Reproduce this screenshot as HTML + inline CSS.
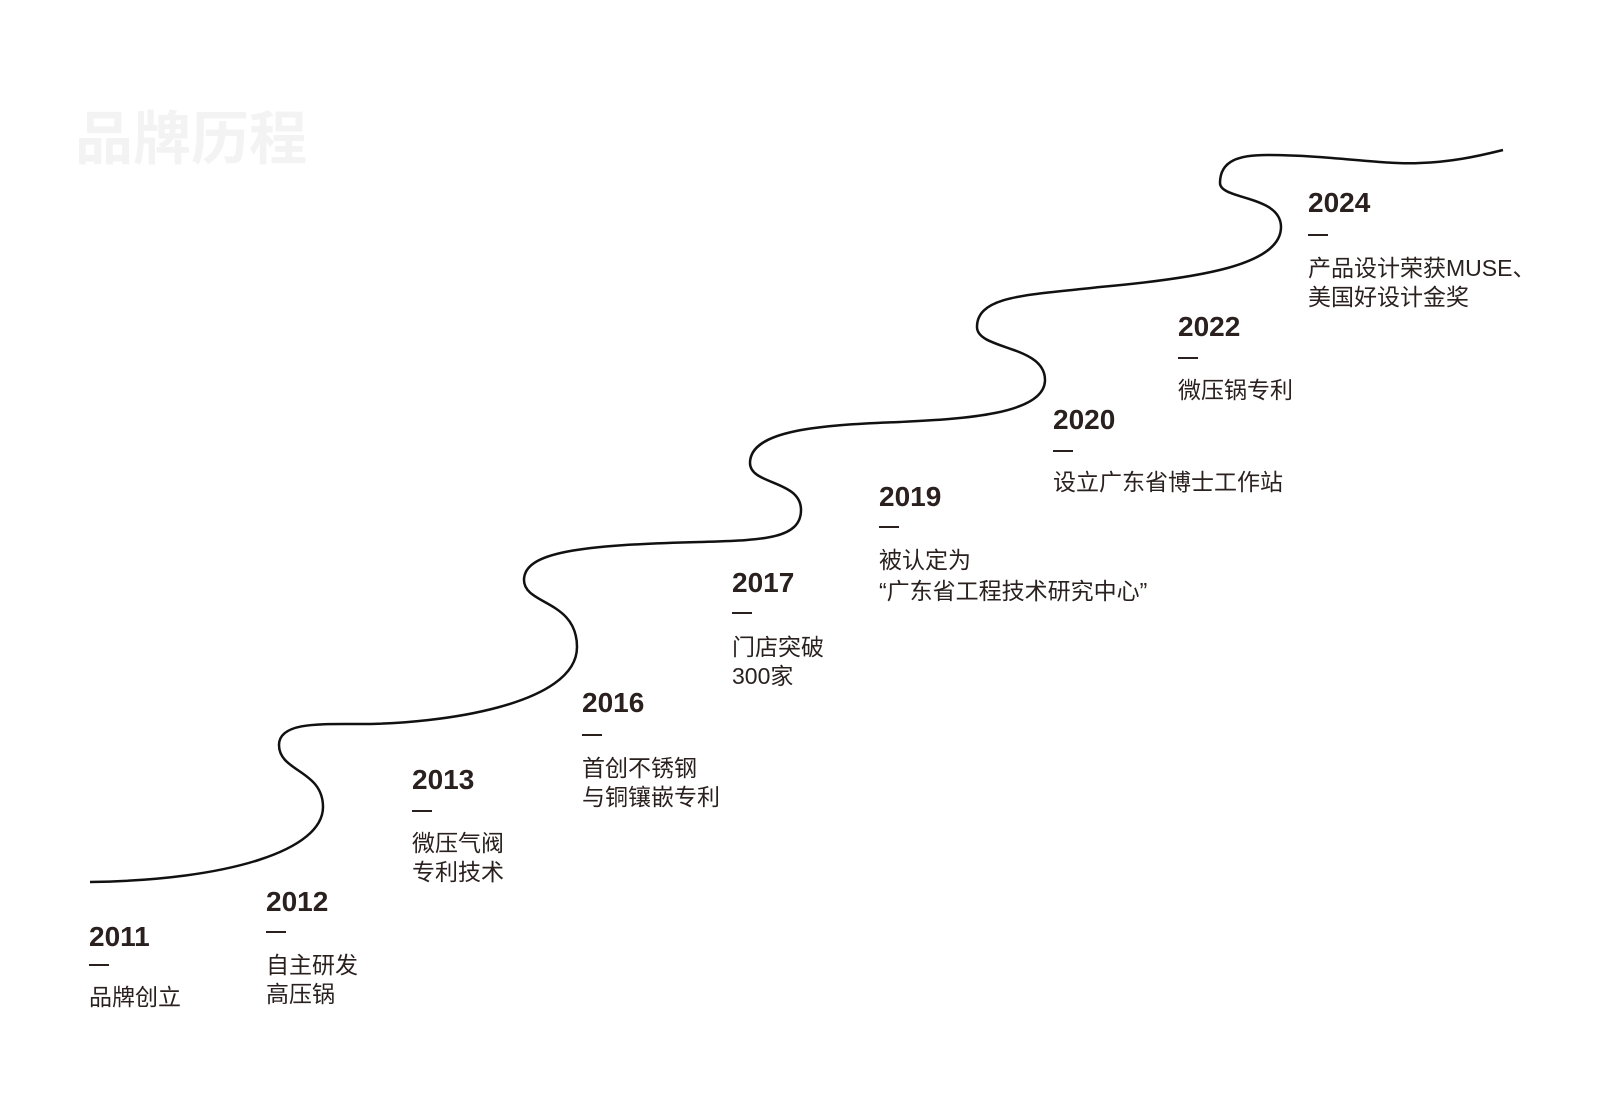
<!DOCTYPE html>
<html><head><meta charset="utf-8"><style>
body{margin:0;background:#fff;}
#c{position:relative;width:1610px;height:1110px;overflow:hidden;font-family:"Liberation Sans","Noto Sans CJK SC",sans-serif;color:#2a211f;}
.t{position:absolute;white-space:nowrap;}
.y{font-size:28px;font-weight:bold;line-height:32px;}
.d{width:20px;height:2px;background:#2a211f;}
.x{font-size:23px;line-height:29px;}
</style></head><body><div id="c">
<div class="t" style="left:75px;top:98px;font-size:58px;font-weight:bold;color:#f3f3f3;line-height:72px;font-family:'Noto Sans CJK SC',sans-serif;">品牌历程</div>
<svg width="1610" height="1110" style="position:absolute;left:0;top:0">
<path d="M90,882 C230,880 323,850 323,807 C323,770 279,772 279,745 C279,722 320,724 360,724 C440,724 577,705 577,647 C577,600 524,605 524,580 C524,552 580,545 700,542 C760,540 801,540 801,510 C801,480 750,485 750,463 C750,430 820,425 900,422 C960,419 1045,415 1045,380 C1045,345 977,350 977,327 C977,295 1030,295 1100,287 C1200,278 1281,265 1281,227 C1281,195 1220,200 1220,183 C1220,160 1240,155 1267,155 C1330,155 1383,165 1420,163 C1450,162 1475,157 1503,150" fill="none" stroke="#111" stroke-width="2.5"/>
</svg>

<div class="t y" style="left:89px;top:921px">2011</div>
<div class="t d" style="left:89px;top:964px"></div>
<div class="t x" style="left:89px;top:983px">品牌创立</div>

<div class="t y" style="left:266px;top:886px">2012</div>
<div class="t d" style="left:266px;top:931px"></div>
<div class="t x" style="left:266px;top:951px">自主研发<br>高压锅</div>

<div class="t y" style="left:412px;top:764px">2013</div>
<div class="t d" style="left:412px;top:810px"></div>
<div class="t x" style="left:412px;top:829px">微压气阀<br>专利技术</div>

<div class="t y" style="left:582px;top:687px">2016</div>
<div class="t d" style="left:582px;top:734px"></div>
<div class="t x" style="left:582px;top:754px">首创不锈钢<br>与铜镶嵌专利</div>

<div class="t y" style="left:732px;top:567px">2017</div>
<div class="t d" style="left:732px;top:612px"></div>
<div class="t x" style="left:732px;top:633px">门店突破<br>300家</div>

<div class="t y" style="left:879px;top:481px">2019</div>
<div class="t d" style="left:879px;top:526px"></div>
<div class="t x" style="left:879px;top:545px;line-height:31px">被认定为<br>“广东省工程技术研究中心”</div>

<div class="t y" style="left:1053px;top:404px">2020</div>
<div class="t d" style="left:1053px;top:450px"></div>
<div class="t x" style="left:1053px;top:468px">设立广东省博士工作站</div>

<div class="t y" style="left:1178px;top:311px">2022</div>
<div class="t d" style="left:1178px;top:357px"></div>
<div class="t x" style="left:1178px;top:376px">微压锅专利</div>

<div class="t y" style="left:1308px;top:187px">2024</div>
<div class="t d" style="left:1308px;top:234px"></div>
<div class="t x" style="left:1308px;top:254px">产品设计荣获MUSE、<br>美国好设计金奖</div>
</div></body></html>
